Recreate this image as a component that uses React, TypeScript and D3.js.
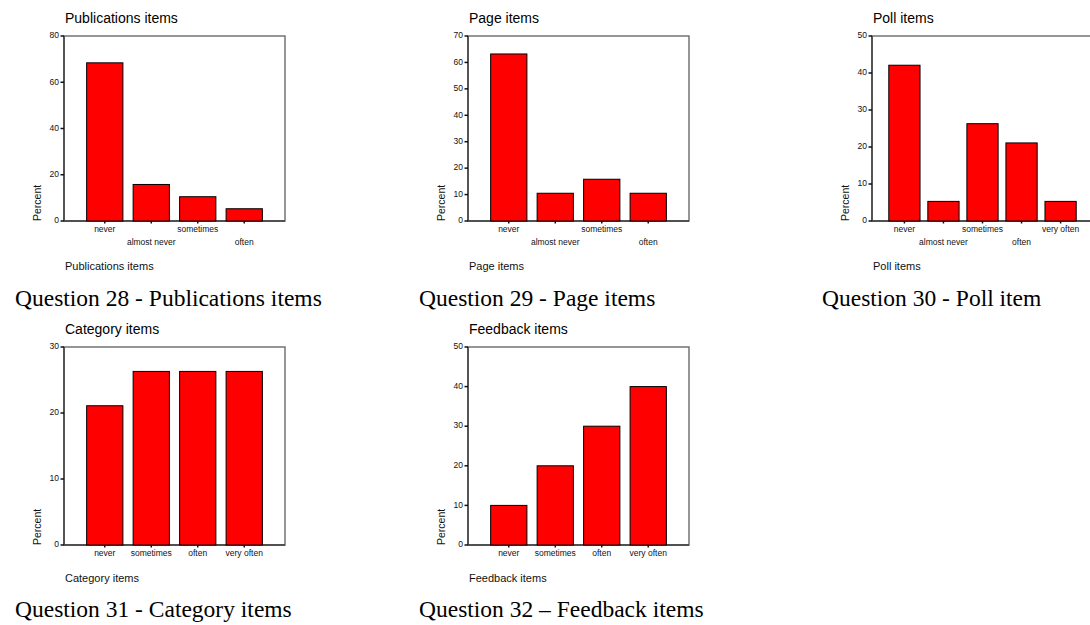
import React from "react";
import * as d3 from "d3";

// ---------- data ----------
const pubCategories = ["never", "almost never", "sometimes", "often"];
const pubValues = [68.4, 15.8, 10.5, 5.3];
const pubTicks = [0, 20, 40, 60, 80];

const pageCategories = ["never", "almost never", "sometimes", "often"];
const pageValues = [63.2, 10.5, 15.8, 10.5];
const pageTicks = [0, 10, 20, 30, 40, 50, 60, 70];

const pollCategories = ["never", "almost never", "sometimes", "often", "very often"];
const pollValues = [42.1, 5.3, 26.3, 21.1, 5.3];
const pollTicks = [0, 10, 20, 30, 40, 50];

const catCategories = ["never", "sometimes", "often", "very often"];
const catValues = [21.1, 26.3, 26.3, 26.3];
const catTicks = [0, 10, 20, 30];

const fbCategories = ["never", "sometimes", "often", "very often"];
const fbValues = [10, 20, 30, 40];
const fbTicks = [0, 10, 20, 30, 40, 50];

const SANS = "'Liberation Sans', Arial, sans-serif";
const SERIF = "'Liberation Serif', 'Times New Roman', serif";

type PanelProps = {
  title: string;
  xTitle: string;
  categories: string[];
  values: number[];
  ticks: number[];
  left: number;
  top: number;
  width: number;
  bottom: number;
  staggered: boolean;
  pInner: number;
  pOuter: number;
  caption: string;
  captionX: number;
  captionY: number;
};

function Panel(p: PanelProps) {
  const right = p.left + p.width;
  const x = d3
    .scaleBand<string>()
    .domain(p.categories)
    .range([p.left, right])
    .paddingInner(p.pInner)
    .paddingOuter(p.pOuter);
  const maxT = d3.max(p.ticks) as number;
  const y = d3.scaleLinear().domain([0, maxT]).range([p.bottom, p.top]);
  const titleY = p.top - 13;
  const xTitleY = p.bottom + (p.staggered ? 49 : 37);
  return (
    <g>
      <text x={p.left + 1} y={titleY} fontFamily={SANS} fontSize={14} fill="#000">
        {p.title}
      </text>
      {/* frame */}
      <rect
        x={p.left}
        y={p.top}
        width={p.width}
        height={p.bottom - p.top}
        fill="none"
        stroke="#6a6a6a"
        strokeWidth={1.4}
      />
      <line x1={p.left} x2={p.left} y1={p.top} y2={p.bottom} stroke="#3a3a3a" strokeWidth={1.4} />
      <line x1={p.left} x2={right} y1={p.bottom} y2={p.bottom} stroke="#3a3a3a" strokeWidth={1.4} />
      {/* y ticks */}
      {p.ticks.map((t) => (
        <g key={t}>
          <line x1={p.left - 3.5} x2={p.left} y1={y(t)} y2={y(t)} stroke="#111" strokeWidth={1.5} />
          <text
            x={p.left - 5}
            y={y(t)}
            textAnchor="end"
            dominantBaseline="middle"
            fontFamily={SANS}
            fontSize={8.5}
            fill="#111"
          >
            {t}
          </text>
        </g>
      ))}
      {/* bars */}
      {p.values.map((v, i) => (
        <rect
          key={i}
          x={x(p.categories[i])}
          y={y(v)}
          width={x.bandwidth()}
          height={p.bottom - y(v)}
          fill="#ff0000"
          stroke="#000"
          strokeWidth={1}
        />
      ))}
      {/* x ticks and labels */}
      {p.categories.map((c, i) => {
        const cx = (x(c) as number) + x.bandwidth() / 2;
        const row = p.staggered ? i % 2 : 0;
        return (
          <g key={c}>
            <line x1={cx} x2={cx} y1={p.bottom} y2={p.bottom + 2.5} stroke="#111" strokeWidth={1.5} />
            <text
              x={cx}
              y={p.bottom + 10.5 + row * 13}
              textAnchor="middle"
              fontFamily={SANS}
              fontSize={8.5}
              fill="#111"
            >
              {c}
            </text>
          </g>
        );
      })}
      {/* y title */}
      <text
        transform={`translate(${p.left - 23.5},${p.bottom}) rotate(-90)`}
        textAnchor="start"
        fontFamily={SANS}
        fontSize={10.5}
        fill="#111"
      >
        Percent
      </text>
      {/* x title */}
      <text x={p.left + 1} y={xTitleY} fontFamily={SANS} fontSize={11} fill="#111">
        {p.xTitle}
      </text>
      {/* caption */}
      <text x={p.captionX} y={p.captionY} fontFamily={SERIF} fontSize={23.5} fill="#000">
        {p.caption}
      </text>
    </g>
  );
}

export default function App() {
  const W = 221;
  return (
    <svg
      width={1090}
      height={625}
      style={{ position: "absolute", left: 0, top: 0, background: "#fff" }}
    >
      <rect x={0} y={0} width={1090} height={625} fill="#fff" />
      <Panel
        title="Publications items"
        xTitle="Publications items"
        categories={pubCategories}
        values={pubValues}
        ticks={pubTicks}
        left={64}
        top={36}
        width={W}
        bottom={221}
        staggered={true}
        pInner={0.22}
        pOuter={0.487}
        caption="Question 28 - Publications items"
        captionX={15}
        captionY={306}
      />
      <Panel
        title="Page items"
        xTitle="Page items"
        categories={pageCategories}
        values={pageValues}
        ticks={pageTicks}
        left={468}
        top={36}
        width={W}
        bottom={221}
        staggered={true}
        pInner={0.22}
        pOuter={0.487}
        caption="Question 29 - Page items"
        captionX={419}
        captionY={306}
      />
      <Panel
        title="Poll items"
        xTitle="Poll items"
        categories={pollCategories}
        values={pollValues}
        ticks={pollTicks}
        left={872}
        top={36}
        width={W}
        bottom={221}
        staggered={true}
        pInner={0.2}
        pOuter={0.43}
        caption="Question 30 - Poll item"
        captionX={822}
        captionY={306}
      />
      <Panel
        title="Category items"
        xTitle="Category items"
        categories={catCategories}
        values={catValues}
        ticks={catTicks}
        left={64}
        top={347}
        width={W}
        bottom={545}
        staggered={false}
        pInner={0.22}
        pOuter={0.487}
        caption="Question 31 - Category items"
        captionX={15}
        captionY={617}
      />
      <Panel
        title="Feedback items"
        xTitle="Feedback items"
        categories={fbCategories}
        values={fbValues}
        ticks={fbTicks}
        left={468}
        top={347}
        width={W}
        bottom={545}
        staggered={false}
        pInner={0.22}
        pOuter={0.487}
        caption="Question 32 – Feedback items"
        captionX={419}
        captionY={617}
      />
    </svg>
  );
}
